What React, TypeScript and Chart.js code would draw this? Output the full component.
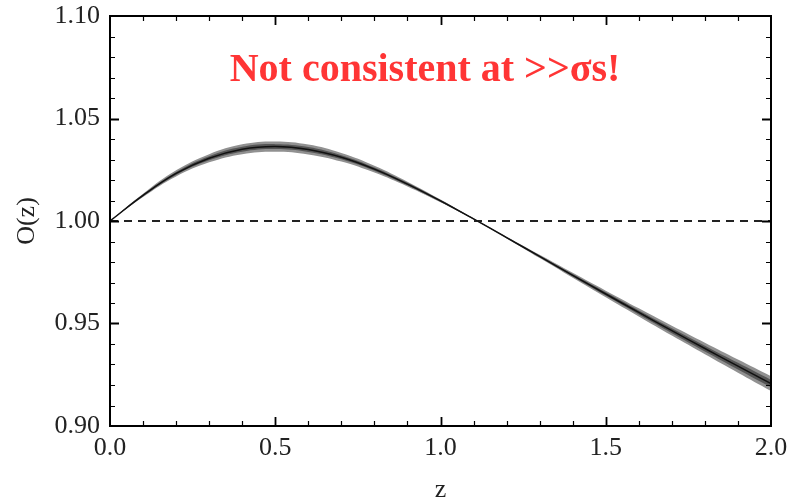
import React, { useEffect, useRef } from "react";
import { Chart, registerables } from "chart.js";

Chart.register(...registerables);

// ---- data ----
const zValues = [0.0, 0.1, 0.2, 0.3, 0.4, 0.5, 0.6, 0.7, 0.8, 0.9, 1.0, 1.1, 1.2, 1.3, 1.4, 1.5, 1.6, 1.7, 1.8, 1.9, 2.0];
const oCenter = [1.0, 1.0125, 1.0232, 1.0306, 1.035, 1.0363, 1.0349, 1.0311, 1.0253, 1.018, 1.0098, 1.001, 0.9919, 0.9827, 0.9735, 0.9644, 0.9554, 0.9465, 0.9378, 0.9292, 0.9207];
const sigmaOuter = [0, 0.0008, 0.0015, 0.002, 0.0024, 0.0025, 0.0024, 0.0021, 0.0017, 0.0012, 0.0007, 0.0003, 0.0004, 0.0008, 0.0012, 0.0016, 0.002, 0.0024, 0.0028, 0.0032, 0.0036];
const sigmaInner = [0, 0.0004, 0.0007, 0.001, 0.0012, 0.0012, 0.0012, 0.001, 0.0008, 0.0006, 0.0004, 0.0002, 0.0002, 0.0004, 0.0006, 0.0008, 0.001, 0.0012, 0.0014, 0.0016, 0.0018];
const referenceLevel = 1.0;
const xRange = [0, 2];
const yRange = [0.9, 1.1];
const xMajorStep = 0.5;
const xMinorStep = 0.1;
const yMajorStep = 0.05;
const yMinorStep = 0.01;
const xTitle = "z";
const yTitle = "O(z)";
const annotationText = "Not consistent at >>σs!";

const SERIF = "'Liberation Serif', 'DejaVu Serif', serif";

const pts = (vals: number[]) => zValues.map((z, i) => ({ x: z, y: vals[i] }));

const framePlugin = {
  id: "frameTicks",
  afterDatasetsDraw(chart: any) {
    const { ctx, chartArea: a, scales } = chart;
    const xs = scales.x;
    const ys = scales.y;
    ctx.save();
    ctx.strokeStyle = "#000";
    ctx.lineWidth = 2;
    ctx.strokeRect(a.left, a.top, a.right - a.left, a.bottom - a.top);
    const nx = Math.round((xRange[1] - xRange[0]) / xMinorStep);
    for (let i = 1; i < nx; i++) {
      const v = xRange[0] + i * xMinorStep;
      const major = Math.abs(v / xMajorStep - Math.round(v / xMajorStep)) < 1e-6;
      const len = major ? 9 : 5;
      const px = Math.round(xs.getPixelForValue(v)) + 0.5;
      ctx.lineWidth = major ? 1.8 : 1.2;
      ctx.beginPath();
      ctx.moveTo(px, a.bottom);
      ctx.lineTo(px, a.bottom - len);
      ctx.moveTo(px, a.top);
      ctx.lineTo(px, a.top + len);
      ctx.stroke();
    }
    const ny = Math.round((yRange[1] - yRange[0]) / yMinorStep);
    for (let i = 1; i < ny; i++) {
      const v = yRange[0] + i * yMinorStep;
      const major = Math.abs(v / yMajorStep - Math.round(v / yMajorStep)) < 1e-6;
      const len = major ? 9 : 5;
      const py = Math.round(ys.getPixelForValue(v)) + 0.5;
      ctx.lineWidth = major ? 1.8 : 1.2;
      ctx.beginPath();
      ctx.moveTo(a.left, py);
      ctx.lineTo(a.left + len, py);
      ctx.moveTo(a.right, py);
      ctx.lineTo(a.right - len, py);
      ctx.stroke();
    }
    ctx.fillStyle = "#ff3535";
    ctx.font = `bold 40px ${SERIF}`;
    ctx.textAlign = "center";
    ctx.textBaseline = "alphabetic";
    ctx.fillText(annotationText, 425, 81);
    ctx.restore();
  },
};

export default function App() {
  const ref = useRef<HTMLCanvasElement | null>(null);
  useEffect(() => {
    if (!ref.current) return;
    const outerLower = oCenter.map((c, i) => c - sigmaOuter[i]);
    const outerUpper = oCenter.map((c, i) => c + sigmaOuter[i]);
    const innerLower = oCenter.map((c, i) => c - sigmaInner[i]);
    const innerUpper = oCenter.map((c, i) => c + sigmaInner[i]);
    const common = { pointRadius: 0, tension: 0.4 };
    const chart = new Chart(ref.current, {
      type: "line",
      data: {
        datasets: [
          { ...common, data: pts(outerLower), borderWidth: 0, borderColor: "rgba(0,0,0,0)", fill: false, order: 4 },
          { ...common, data: pts(outerUpper), borderWidth: 0, borderColor: "rgba(0,0,0,0)", backgroundColor: "rgb(145,145,145)", fill: "-1", order: 4 },
          { ...common, data: pts(innerLower), borderWidth: 0, borderColor: "rgba(0,0,0,0)", fill: false, order: 3 },
          { ...common, data: pts(innerUpper), borderWidth: 0, borderColor: "rgba(0,0,0,0)", backgroundColor: "rgb(85,85,85)", fill: "-1", order: 3 },
          { ...common, data: pts(oCenter), borderWidth: 1.5, borderColor: "#111", fill: false, order: 1 },
          {
            pointRadius: 0,
            data: [
              { x: xRange[0], y: referenceLevel },
              { x: xRange[1], y: referenceLevel },
            ],
            borderWidth: 1.8,
            borderColor: "#222",
            borderDash: [8, 6],
            fill: false,
            order: 5,
          },
        ],
      },
      options: {
        animation: false,
        responsive: false,
        layout: { padding: { top: 16, right: 21, left: 0, bottom: 0 } },
        plugins: { legend: { display: false }, tooltip: { enabled: false }, title: { display: false } },
        scales: {
          x: {
            type: "linear",
            min: xRange[0],
            max: xRange[1],
            grid: { display: false, drawTicks: false },
            border: { display: false },
            ticks: {
              stepSize: xMajorStep,
              padding: 7,
              color: "#222",
              font: { family: SERIF, size: 26 },
              maxRotation: 0,
              callback: (v: any) => Number(v).toFixed(1),
            },
            title: {
              display: true,
              text: xTitle,
              color: "#222",
              font: { family: SERIF, size: 26 },
              padding: { top: 0, bottom: -2 },
            },
            afterFit: (s: any) => {
              s.height = 78;
              s.paddingLeft = 0;
              s.paddingRight = 0;
            },
          },
          y: {
            type: "linear",
            min: yRange[0],
            max: yRange[1],
            grid: { display: false, drawTicks: false },
            border: { display: false },
            ticks: {
              stepSize: yMajorStep,
              padding: 10,
              color: "#222",
              font: { family: SERIF, size: 26 },
              callback: (v: any) => Number(v).toFixed(2),
            },
            title: {
              display: true,
              text: yTitle,
              color: "#222",
              font: { family: SERIF, size: 26 },
              padding: { top: 12, bottom: 0 },
            },
            afterFit: (s: any) => {
              s.width = 110;
              s.paddingTop = 0;
              s.paddingBottom = 0;
            },
          },
        },
      },
      plugins: [framePlugin],
    });
    return () => chart.destroy();
  }, []);
  return (
    <div style={{ position: "absolute", left: 0, top: 0, width: 792, height: 504, background: "#fff" }}>
      <canvas ref={ref} width={792} height={504} style={{ display: "block" }} />
    </div>
  );
}
